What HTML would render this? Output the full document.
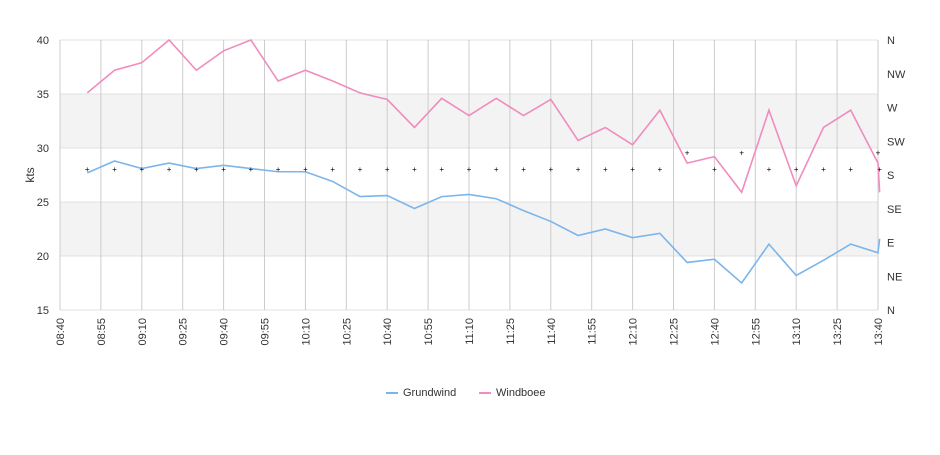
<!DOCTYPE html>
<html><head><meta charset="utf-8"><style>
body{margin:0;background:#fff;font-family:"Liberation Sans",sans-serif}
</style></head><body>
<svg id="chart" width="940" height="450" xmlns="http://www.w3.org/2000/svg" font-family="Liberation Sans, sans-serif" font-size="11" fill="#333"></svg>
<script>
const minutes=[10,20,30,40,50,60,70,80,90,100,110,120,130,140,150,160,170,180,190,200,210,220,230,240,250,260,270,280,290,300,300.6];
const grundwind=[27.7,28.8,28.1,28.6,28.1,28.4,28.1,27.8,27.8,26.9,25.5,25.6,24.4,25.5,25.7,25.3,24.2,23.2,21.9,22.5,21.7,22.1,19.4,19.7,17.5,21.1,18.2,19.6,21.1,20.3,21.6];
const windboee=[35.1,37.2,37.9,40,37.2,39,40,36.2,37.2,36.2,35.1,34.5,31.9,34.6,33,34.6,33,34.5,30.7,31.9,30.3,33.5,28.6,29.2,25.9,33.5,26.5,31.9,33.5,28.6,25.9];
const direction=[188,188,188,188,188,188,188,188,188,188,188,188,188,188,188,188,188,188,188,188,188,188,210,188,210,188,188,188,188,210,188];
const yTicks=[15,20,25,30,35,40];
const dirLabels=["N","NE","E","SE","S","SW","W","NW","N"];
const svg=document.getElementById('chart');
const NS='http://www.w3.org/2000/svg';
const L=60,R=878,T=40,B=310;
const x=m=>L+m/300*(R-L);
const y=v=>B-(v-15)/25*(B-T);
const yd=d=>B-d/360*(B-T);
function mk(t,a,p){const e=document.createElementNS(NS,t);for(const k in a)e.setAttribute(k,a[k]);(p||svg).appendChild(e);return e;}
// bands
[[30,35],[20,25]].forEach(b=>{const r=mk('rect',{x:L,y:y(b[1]),width:R-L,height:y(b[0])-y(b[1]),fill:'#f3f3f3'});

});
yTicks.forEach(v=>{const g=mk('line',{x1:L,x2:R,y1:y(v),y2:y(v),stroke:'#e0e0e0'});


const t=mk('text',{x:L-11,y:y(v)+4,'text-anchor':'end','font-size':11,fill:'#333'});t.textContent=v;

});
for(let m=0;m<=300;m+=15){const xx=x(m);
if(m>0){const g=mk('line',{x1:xx,x2:xx,y1:T,y2:B,stroke:'#ccc'});

}
const hh=8+Math.floor((40+m)/60),mm=(40+m)%60;
const lab=String(hh).padStart(2,'0')+':'+String(mm).padStart(2,'0');
const t=mk('text',{x:0,y:0,transform:`translate(${xx+4},${B+8}) rotate(-90)`,'text-anchor':'end','font-size':11,fill:'#333'});t.textContent=lab;

}
mk('line',{x1:L,x2:L,y1:T,y2:B,stroke:'#ccc'});
mk('line',{x1:R,x2:R,y1:T,y2:B,stroke:'#ccc'});
dirLabels.forEach((d,i)=>{const t=mk('text',{x:887,y:yd(i*45)+4,'font-size':11,fill:'#333'});t.textContent=d;

});
const yt=mk('text',{x:0,y:0,transform:'translate(34,175) rotate(-90)','text-anchor':'middle','font-size':12,fill:'#333'});yt.textContent='kts';


function line(vals,color,name){const p=mk('path',{d:vals.map((v,i)=>(i?'L':'M')+x(minutes[i])+','+y(v)).join(''),fill:'none',stroke:color,'stroke-width':1.6});

}
line(grundwind,'#7cb5ec','grundwind-line');
line(windboee,'#f08cbe','windboee-line');
direction.forEach((d,i)=>{const t=mk('text',{x:x(minutes[i]),y:yd(d)+3,'text-anchor':'middle','font-size':8,fill:'#000'});t.textContent='+';

});
// legend
const lg=mk('g',{});


[['Grundwind','#7cb5ec',386],['Windboee','#f08cbe',479]].forEach(e=>{const g=mk('g',{},lg);


mk('line',{x1:e[2],x2:e[2]+12,y1:393,y2:393,stroke:e[1],'stroke-width':2},g);
const t=mk('text',{x:e[2]+17,y:396,'font-size':11,fill:'#333'},g);t.textContent=e[0];});
</script>
</body></html>
